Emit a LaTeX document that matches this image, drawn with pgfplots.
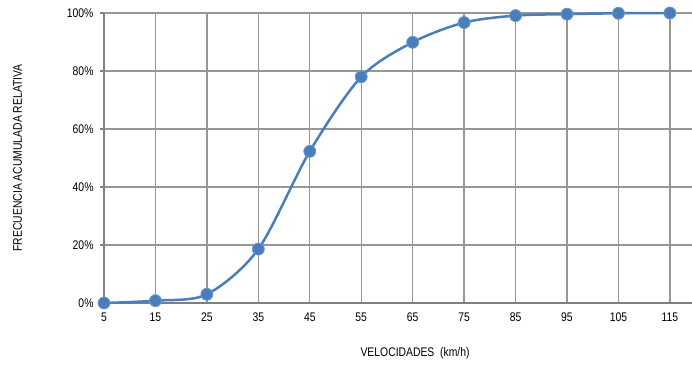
\documentclass[border=0pt]{standalone}
\usepackage{fontspec}
\setmainfont{Liberation Sans}[FakeStretch=0.83]
\usepackage{pgfplots}
\pgfplotsset{compat=1.18}
\definecolor{serie}{HTML}{4A7EBB}
\definecolor{gridc}{HTML}{979797}
\definecolor{axc}{HTML}{7F7F7F}
\begin{document}
\begin{tikzpicture}
\useasboundingbox (-104bp,-64bp) rectangle (588bp,303bp);
\begin{axis}[
  anchor=south west, at={(0,0)},
  scale only axis, width=588bp, height=290bp,
  xmin=5, xmax=119.3, ymin=0, ymax=100,
  axis x line=bottom, axis y line=left,
  axis line style={axc, line width=1.4bp, -},
  xtick={5,15,...,115}, ytick={0,20,...,100},
  yticklabel={\pgfmathprintnumber{\tick}\%},
  /pgf/number format/assume math mode=true,
  grid=major, major grid style={gridc, line width=1.3bp},
  tick style={axc, line width=1.3bp},
  tick align=outside, major tick length=4bp,
  xtick style={draw=none},
  tick label style={font=\fontsize{12.5bp}{14bp}\selectfont},
  label style={font=\fontsize{12.5bp}{14bp}\selectfont},
  xticklabel style={yshift=-2bp},
  yticklabel style={xshift=-3bp},
  xlabel={VELOCIDADES\ \ (km/h)},
  ylabel={FRECUENCIA ACUMULADA RELATIVA},
  xlabel style={at={(axis description cs:0.529,-0.1724)}, anchor=center},
  ylabel style={at={(axis description cs:-0.1471,0.5)}, anchor=center},
  clip=false,
]
\addplot[serie, line width=2.5bp, smooth, tension=0.5, mark=*, mark size=6bp,
  mark options={fill=serie, draw=serie!80!white, line width=0.8bp}]
  coordinates {
  (5,0) (15,0.8) (25,3) (35,18.6) (45,52.3) (55,78) (65,89.9) (75,96.7)
  (85,99.1) (95,99.6) (105,99.9) (115,100)
  };
\end{axis}
\end{tikzpicture}
\end{document}
